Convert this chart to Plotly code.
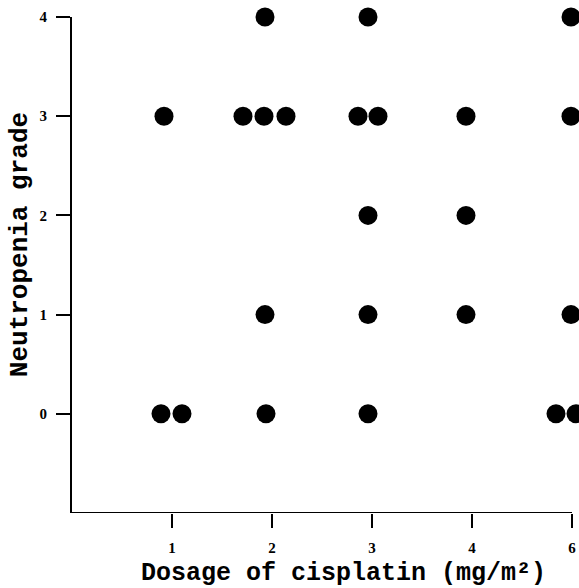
import plotly.graph_objects as go

# Data (x on an axis whose last tick "6" sits at position 5)
grade4_x = [1.93, 2.96, 4.99]
grade3_x = [0.92, 1.71, 1.92, 2.14, 2.86, 3.06, 3.94, 4.99]
grade2_x = [2.96, 3.94]
grade1_x = [1.93, 2.96, 3.94, 4.99]
grade0_x = [0.89, 1.10, 1.94, 2.96, 4.84, 5.04]

x_tickvals = [1, 2, 3, 4, 5]
x_ticktext = ["1", "2", "3", "4", "6"]
y_tickvals = [0, 1, 2, 3, 4]

xs, ys = [], []
for g, arr in [(4, grade4_x), (3, grade3_x), (2, grade2_x), (1, grade1_x), (0, grade0_x)]:
    xs += arr
    ys += [g] * len(arr)

fig = go.Figure()
fig.add_trace(go.Scatter(
    x=xs, y=ys, mode="markers",
    marker=dict(size=19, color="black", line=dict(width=0)),
    cliponaxis=False, showlegend=False,
))

mono = "Liberation Mono, Courier New, monospace"
tickfont = dict(family="Liberation Serif, serif", size=15, color="black", weight="bold")

fig.update_layout(
    width=579, height=588,
    margin=dict(l=72, r=0, t=17, b=75),
    plot_bgcolor="white", paper_bgcolor="white",
    xaxis=dict(
        range=[0, 5.07], tickvals=x_tickvals, ticktext=x_ticktext,
        showline=False,
        ticks="outside", ticklen=14, tickwidth=2, tickcolor="black",
        ticklabelstandoff=7,
        showgrid=False, zeroline=False, tickfont=tickfont,
    ),
    yaxis=dict(
        range=[-1, 4], tickvals=y_tickvals,
        showline=True, linecolor="black", linewidth=2,
        ticks="outside", ticklen=14, tickwidth=2, tickcolor="black",
        ticklabelstandoff=6,
        showgrid=False, zeroline=False, tickfont=tickfont,
    ),
    shapes=[dict(type="line", xref="x", yref="y", x0=0, x1=x_tickvals[-1], y0=-1, y1=-1,
                 line=dict(color="black", width=2))],
    annotations=[
        dict(text="Dosage of cisplatin (mg/m²)", xref="paper", yref="paper",
             x=0.536, y=0, yshift=-60, xanchor="center", yanchor="middle", showarrow=False,
             font=dict(family=mono, size=25, color="black", weight="bold")),
        dict(text="Neutropenia grade", xref="paper", yref="paper", textangle=-90,
             x=0, xshift=-52, y=0.54, xanchor="center", yanchor="middle", showarrow=False,
             font=dict(family=mono, size=26, color="black", weight="bold")),
    ],
)

fig.write_html("out.html")
